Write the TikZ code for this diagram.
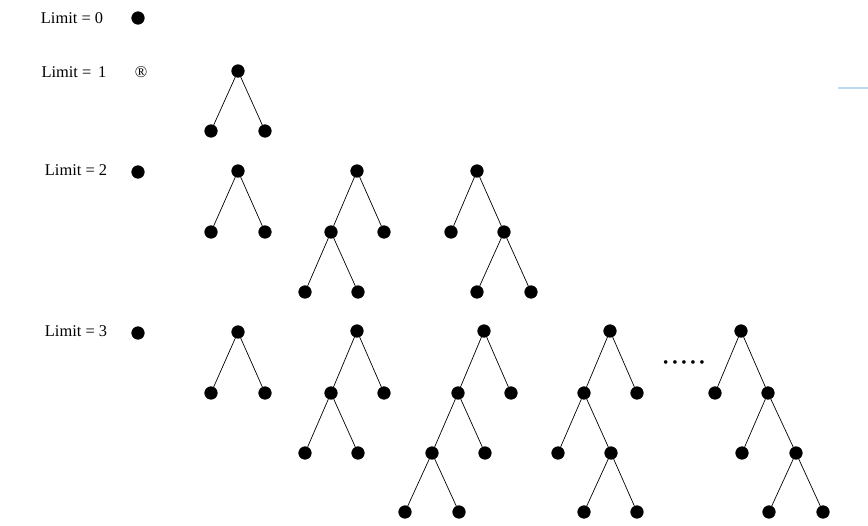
\documentclass[tikz,border=0pt]{standalone}
\usepackage{fontspec}
\setmainfont{Liberation Serif}
\usetikzlibrary{positioning}
\definecolor{paleblue}{RGB}{189,215,238}
\tikzset{
    vertex/.style={
    circle,draw=black,fill=black,inner sep=0pt,minimum size=0.38cm
    },
    limitlabel/.style={
    font=\fontsize{14}{16}\selectfont,inner sep=0pt
    },
    branch/.style={
    draw=black,line width=0.6pt
    },
}
\begin{document}
\begin{tikzpicture}[x=0.03cm,y=-0.03cm]
   \useasboundingbox (0,0) rectangle (868,525);

   %labels
   \node[limitlabel] (l0) at (72,18) {Limit = 0};
   \node[limitlabel] (l1) at (74,72) {Limit = \,1};
   \node[limitlabel] (l2) at (76,170) {Limit = 2};
   \node[limitlabel] (l3) at (76,331) {Limit = 3};
   \node[vertex] (d0) at (138,18) {};
   \node[inner sep=0pt,font=\fontsize{14}{16}\selectfont] (d1) at (141,72) {\textregistered};
   \node[vertex] (d2) at (138,172) {};
   \node[vertex] (d3) at (138,333) {};

   %limit 1
   \node[vertex] (a1) at (238,71) {};
   \node[vertex] (a2) at (211,131) {};
   \node[vertex] (a3) at (265,131) {};

   %limit 2
   \node[vertex] (b1) at (238,171) {};
   \node[vertex] (b2) at (211,232) {};
   \node[vertex] (b3) at (265,232) {};

   \node[vertex] (c1) at (357,171) {};
   \node[vertex] (c2) at (331,232) {};
   \node[vertex] (c3) at (384,232) {};
   \node[vertex] (c4) at (305,292) {};
   \node[vertex] (c5) at (358,292) {};

   \node[vertex] (e1) at (477,171) {};
   \node[vertex] (e2) at (451,232) {};
   \node[vertex] (e3) at (504,232) {};
   \node[vertex] (e4) at (477,292) {};
   \node[vertex] (e5) at (531,292) {};

   %limit 3
   \node[vertex] (f1) at (238,332) {};
   \node[vertex] (f2) at (211,393) {};
   \node[vertex] (f3) at (265,393) {};

   \node[vertex] (g1) at (357,331) {};
   \node[vertex] (g2) at (331,393) {};
   \node[vertex] (g3) at (384,393) {};
   \node[vertex] (g4) at (305,453) {};
   \node[vertex] (g5) at (358,453) {};

   \node[vertex] (h1) at (484,331) {};
   \node[vertex] (h2) at (458,393) {};
   \node[vertex] (h3) at (511,393) {};
   \node[vertex] (h4) at (432,453) {};
   \node[vertex] (h5) at (485,453) {};
   \node[vertex] (h6) at (405,512) {};
   \node[vertex] (h7) at (459,512) {};

   \node[vertex] (k1) at (610,331) {};
   \node[vertex] (k2) at (584,393) {};
   \node[vertex] (k3) at (637,393) {};
   \node[vertex] (k4) at (558,453) {};
   \node[vertex] (k5) at (611,453) {};
   \node[vertex] (k6) at (584,512) {};
   \node[vertex] (k7) at (637,512) {};

   \node[inner sep=0pt,font=\fontsize{13}{15}\selectfont] (more) at (684,364)
        {\textbullet\hspace{3.2pt}\textbullet\hspace{3.2pt}\textbullet\hspace{3.2pt}\textbullet\hspace{3.2pt}\textbullet};

   \node[vertex] (m1) at (741,331) {};
   \node[vertex] (m2) at (715,393) {};
   \node[vertex] (m3) at (768,393) {};
   \node[vertex] (m4) at (742,453) {};
   \node[vertex] (m5) at (796,453) {};
   \node[vertex] (m6) at (769,512) {};
   \node[vertex] (m7) at (823,512) {};

   \coordinate (s1) at (838,88);
   \coordinate (s2) at (868,88);
   \draw[paleblue,line width=2.5pt] (s1) -- (s2);

  \path[branch]
    %limit 1
    (a1) edge (a2)
         edge (a3)
    %limit 2
    (b1) edge (b2)
         edge (b3)
    (c1) edge (c2)
         edge (c3)
    (c2) edge (c4)
         edge (c5)
    (e1) edge (e2)
         edge (e3)
    (e3) edge (e4)
         edge (e5)
    %limit 3
    (f1) edge (f2)
         edge (f3)
    (g1) edge (g2)
         edge (g3)
    (g2) edge (g4)
         edge (g5)
    (h1) edge (h2)
         edge (h3)
    (h2) edge (h4)
         edge (h5)
    (h4) edge (h6)
         edge (h7)
    (k1) edge (k2)
         edge (k3)
    (k2) edge (k4)
         edge (k5)
    (k5) edge (k6)
         edge (k7)
    (m1) edge (m2)
         edge (m3)
    (m3) edge (m4)
         edge (m5)
    (m5) edge (m6)
         edge (m7);
\end{tikzpicture}
\end{document}
